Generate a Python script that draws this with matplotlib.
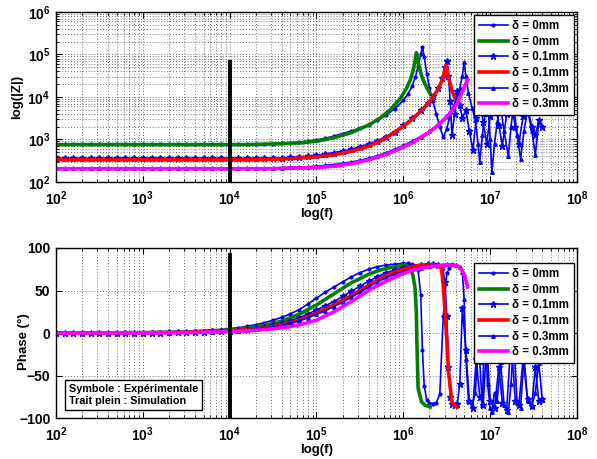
import numpy as np
import matplotlib.pyplot as plt

# style close to a MATLAB export
plt.rcParams['font.family'] = ['Liberation Sans', 'DejaVu Sans']
plt.rcParams['font.weight'] = 'bold'
plt.rcParams['mathtext.fontset'] = 'custom'
plt.rcParams['mathtext.rm'] = 'Liberation Sans:bold'
plt.rcParams['mathtext.bf'] = 'Liberation Sans:bold'
plt.rcParams['mathtext.default'] = 'rm'

# frequencies are given as log10(f), |Z| as log10(|Z|), phase in degrees

# experiment, delta = 0mm
lf_exp0 = [2.0, 2.1, 2.2, 2.3, 2.4, 2.5, 2.6, 2.7, 2.8, 2.9, 3.0, 3.1, 3.2, 3.3, 3.4, 3.5,
           3.6, 3.7, 3.8, 3.9, 4.0, 4.1, 4.2, 4.3, 4.4, 4.5, 4.6, 4.7, 4.8, 4.9, 5.0,
           5.1, 5.2, 5.3, 5.4, 5.5, 5.6, 5.7, 5.8, 5.9, 6.0, 6.05, 6.1, 6.14, 6.17, 6.2,
           6.22, 6.24, 6.27, 6.3, 6.34, 6.38, 6.42, 6.46, 6.5, 6.53]
mag_exp0 = [2.89, 2.89, 2.89, 2.89, 2.89, 2.89, 2.89, 2.89, 2.89, 2.89, 2.89, 2.89, 2.89,
            2.89, 2.89, 2.89, 2.89, 2.89, 2.89, 2.89, 2.89, 2.89, 2.89, 2.89, 2.89, 2.89,
            2.91, 2.92, 2.94, 2.96, 2.99, 3.03, 3.08, 3.14, 3.2, 3.27, 3.35, 3.45, 3.57,
            3.72, 3.92, 4.06, 4.25, 4.48, 4.72, 5.0, 5.18, 4.95, 4.55, 4.22, 3.9, 3.6,
            3.3, 3.05, 3.25, 3.5]
ph_exp0 = [0, 0, 0, 0, 0, 0.1, 0.1, 0.2, 0.3, 0.4, 0.5, 0.6, 0.8, 1.0, 1.3, 1.6, 2.0,
           2.5, 3.2, 4.0, 5.0, 6.3, 7.9, 9.8, 12.2, 15, 18.5, 22.5, 27.5, 34, 41, 48, 54,
           60, 66, 71, 75, 78, 80, 81, 82, 82, 81, 79, 74, 45, -20, -62, -79, -82, -83,
           -82, -72, 20, 70, 76]

# simulation, delta = 0mm
lf_sim0 = [2.0, 3.0, 3.5, 4.0, 4.2, 4.4, 4.6, 4.8, 5.0, 5.2, 5.4, 5.6, 5.73, 5.85, 5.96,
           6.03, 6.08, 6.11, 6.135, 6.15, 6.155, 6.17, 6.21, 6.25, 6.28, 6.31]
mag_sim0 = [2.88, 2.88, 2.88, 2.88, 2.88, 2.89, 2.9, 2.92, 2.96, 3.04, 3.16, 3.34, 3.5,
            3.7, 3.95, 4.18, 4.4, 4.6, 4.85, 5.04, 5.02, 4.82, 4.5, 4.3, 4.18, 4.07]
ph_sim0 = [0, 0.4, 1.2, 3.7, 5.8, 9, 14, 22, 33, 46, 59, 69, 74, 77, 79, 80, 76, 68, 53,
           25, -6, -65, -81, -85, -86, -87]

# experiment, delta = 0.1mm
lf_exp1 = [2.0, 2.1, 2.2, 2.3, 2.4, 2.5, 2.6, 2.7, 2.8, 2.9, 3.0, 3.1, 3.2, 3.3, 3.4, 3.5,
           3.6, 3.7, 3.8, 3.9, 4.0, 4.1, 4.2, 4.3, 4.4, 4.5, 4.6, 4.7, 4.8, 4.9, 5.0,
           5.1, 5.2, 5.3, 5.4, 5.5, 5.6, 5.7, 5.8, 5.9, 6.0, 6.1, 6.2, 6.28, 6.34, 6.4,
           6.45, 6.48, 6.5, 6.52, 6.54, 6.56, 6.59, 6.62, 6.65, 6.68, 6.72, 6.76, 6.8,
           6.84, 6.88, 6.92, 6.96, 7.0, 7.05, 7.1, 7.14, 7.19, 7.24, 7.29, 7.33, 7.38,
           7.43, 7.48, 7.52, 7.56, 7.6]
mag_exp1 = [2.56, 2.56, 2.56, 2.56, 2.56, 2.56, 2.56, 2.56, 2.56, 2.56, 2.56, 2.56, 2.56,
            2.56, 2.56, 2.56, 2.56, 2.56, 2.56, 2.56, 2.56, 2.56, 2.56, 2.56, 2.56, 2.56,
            2.57, 2.58, 2.59, 2.61, 2.63, 2.66, 2.69, 2.73, 2.77, 2.83, 2.89, 2.97, 3.07,
            3.18, 3.33, 3.5, 3.69, 3.86, 4.02, 4.2, 4.45, 4.7, 4.85, 4.5, 3.9, 3.1, 3.6,
            4.15, 3.8, 3.5, 3.7, 3.2, 2.75, 3.5, 3.9, 3.4, 2.9, 3.55, 3.95, 3.35, 2.85,
            3.6, 3.9, 3.3, 2.9, 3.55, 3.75, 3.3, 3.1, 3.45, 3.3]
ph_exp1 = [0, 0, 0.1, 0.1, 0.1, 0.1, 0.1, 0.2, 0.2, 0.2, 0.3, 0.4, 0.5, 0.6, 0.8, 0.9,
           1.2, 1.5, 1.8, 2.3, 2.9, 3.7, 4.6, 5.8, 7.3, 9.2, 11.5, 14.5, 18, 22.5, 27, 32,
           37, 43, 49, 55, 61, 66, 71, 74, 77, 79, 80, 81, 81, 80, 78, 60, 20, -40, -75,
           -84, -85, -84, -60, 30, -20, -80, -88, -30, -75, -85, -10, -80, -88, -40, -82,
           -90, -8, -80, -85, -30, -78, -86, -40, -80, -78]

# simulation, delta = 0.1mm
lf_sim1 = [2.0, 3.0, 3.5, 4.0, 4.2, 4.4, 4.6, 4.8, 5.0, 5.2, 5.4, 5.6, 5.73, 5.85, 6.0,
           6.11, 6.2, 6.27, 6.34, 6.4, 6.44, 6.462, 6.48, 6.49, 6.50, 6.52, 6.56, 6.59, 6.62]
mag_sim1 = [2.52, 2.52, 2.52, 2.52, 2.52, 2.53, 2.54, 2.56, 2.59, 2.64, 2.72, 2.84, 2.96,
            3.1, 3.31, 3.49, 3.66, 3.81, 3.99, 4.18, 4.36, 4.5, 4.65, 4.75, 4.7, 4.45,
            4.15, 4.0, 3.89]
ph_sim1 = [0, 0.25, 0.8, 2.5, 4, 6, 9.5, 15, 23.5, 33, 44, 56, 64, 70, 75, 78, 80, 80, 80,
           79, 76, 53, 25, 8, -6, -45, -81, -86, -87]

# experiment, delta = 0.3mm
lf_exp3 = [2.0, 2.1, 2.2, 2.3, 2.4, 2.5, 2.6, 2.7, 2.8, 2.9, 3.0, 3.1, 3.2, 3.3, 3.4, 3.5,
           3.6, 3.7, 3.8, 3.9, 4.0, 4.1, 4.2, 4.3, 4.4, 4.5, 4.6, 4.7, 4.8, 4.9, 5.0,
           5.1, 5.2, 5.3, 5.4, 5.5, 5.6, 5.7, 5.8, 5.9, 6.0, 6.1, 6.2, 6.3, 6.4, 6.5,
           6.56, 6.61, 6.65, 6.68, 6.7, 6.72, 6.75, 6.79, 6.83, 6.86, 6.88, 6.91, 6.94,
           6.97, 7.0, 7.02, 7.05, 7.08, 7.12, 7.16, 7.21, 7.24, 7.27, 7.31, 7.35, 7.39,
           7.43, 7.48, 7.52, 7.56, 7.6]
mag_exp3 = [2.33, 2.33, 2.33, 2.33, 2.33, 2.33, 2.33, 2.33, 2.33, 2.33, 2.33, 2.33, 2.33,
            2.33, 2.33, 2.33, 2.33, 2.33, 2.33, 2.33, 2.33, 2.33, 2.33, 2.33, 2.33, 2.33,
            2.34, 2.35, 2.35, 2.36, 2.37, 2.39, 2.41, 2.44, 2.47, 2.51, 2.56, 2.62, 2.69,
            2.77, 2.86, 2.96, 3.07, 3.2, 3.36, 3.56, 3.72, 3.92, 4.2, 4.5, 4.82, 4.5, 4.1,
            3.75, 3.46, 2.9, 2.47, 3.1, 3.6, 4.0, 3.0, 2.24, 2.9, 3.4, 3.77, 3.2, 2.6,
            3.3, 3.8, 3.1, 2.54, 3.2, 3.7, 3.2, 2.64, 3.4, 3.3]
ph_exp3 = [0, 0, 0, 0, 0.1, 0.1, 0.1, 0.1, 0.2, 0.2, 0.2, 0.3, 0.4, 0.5, 0.6, 0.7, 0.9,
           1.2, 1.5, 1.9, 2.3, 2.9, 3.7, 4.6, 5.8, 7.2, 9, 11.5, 14.5, 18, 22, 26, 31,
           36, 42, 48, 54, 60, 65, 69, 72, 75, 77, 79, 80, 81, 81, 80, 78, 72, 40, -30,
           -80, -86, -70, -8, -34, -85, 12, -60, -88, -93, -70, -80, -34, -85, -93, -60,
           -8, -82, -88, -27, -80, -86, -70, -35, -79]

# simulation, delta = 0.3mm
lf_sim3 = [2.0, 3.0, 3.5, 4.0, 4.2, 4.4, 4.6, 4.8, 5.0, 5.2, 5.4, 5.6, 5.8, 6.0, 6.11,
           6.2, 6.3, 6.4, 6.5, 6.58, 6.62, 6.65, 6.68, 6.71, 6.74]
mag_sim3 = [2.31, 2.31, 2.31, 2.31, 2.31, 2.31, 2.32, 2.33, 2.34, 2.37, 2.43, 2.52, 2.65,
            2.82, 2.93, 3.04, 3.17, 3.33, 3.53, 3.73, 3.85, 4.0, 4.13, 4.27, 4.4]
ph_sim3 = [0, 0.15, 0.5, 1.5, 2.5, 4, 6, 9.5, 15, 25, 37, 50, 61, 70, 74, 76, 78, 79, 80,
           80, 79, 77, 73, 67, 54]

labels = ['δ = 0mm', 'δ = 0mm', 'δ = 0.1mm', 'δ = 0.1mm', 'δ = 0.3mm', 'δ = 0.3mm']

# black marker line at 10 kHz
f_mark = 1e4
mark_top_mag = 6.6e4
mark_top_ph = 92

fig = plt.figure(figsize=(5.97, 4.59), dpi=100)
ax1 = fig.add_axes([0.0938, 0.6035, 0.8727, 0.3704])
ax2 = fig.add_axes([0.0938, 0.0893, 0.8727, 0.3704])

def f(lf):
    return 10 ** np.array(lf)

exp_style = dict(color='#0000ff', linewidth=1.2)
sim_style = dict(linewidth=2.6)

# magnitude
ax1.plot(f(lf_exp0), f(mag_exp0), marker='.', markersize=4, label=labels[0], **exp_style)
ax1.plot(f(lf_sim0), f(mag_sim0), color='#008000', label=labels[1], **sim_style)
ax1.plot(f(lf_exp1), f(mag_exp1), marker='*', markersize=5, label=labels[2], **exp_style)
ax1.plot(f(lf_sim1), f(mag_sim1), color='#ff0000', label=labels[3], **sim_style)
ax1.plot(f(lf_exp3), f(mag_exp3), marker='^', markersize=2.5, label=labels[4], **exp_style)
ax1.plot(f(lf_sim3), f(mag_sim3), color='#ff00ff', label=labels[5], **sim_style)
ax1.plot([f_mark, f_mark], [1e2, mark_top_mag], color='k', linewidth=2.8)

# phase
ax2.plot(f(lf_exp0), ph_exp0, marker='.', markersize=4, label=labels[0], **exp_style)
ax2.plot(f(lf_sim0), ph_sim0, color='#008000', label=labels[1], **sim_style)
ax2.plot(f(lf_exp1), ph_exp1, marker='*', markersize=5, label=labels[2], **exp_style)
ax2.plot(f(lf_sim1), ph_sim1, color='#ff0000', label=labels[3], **sim_style)
ax2.plot(f(lf_exp3), ph_exp3, marker='^', markersize=2.5, label=labels[4], **exp_style)
ax2.plot(f(lf_sim3), ph_sim3, color='#ff00ff', label=labels[5], **sim_style)
ax2.plot([f_mark, f_mark], [-100, mark_top_ph], color='k', linewidth=2.8)

grid_kw = dict(linestyle=(0, (1, 2.5)), color='0.25', linewidth=0.6)

ax1.set_xscale('log')
ax1.set_yscale('log')
ax1.set_xlim(1e2, 1e8)
ax1.set_ylim(1e2, 1e6)
ax1.set_xticks([1e2, 1e3, 1e4, 1e5, 1e6, 1e7, 1e8])
ax1.set_yticks([1e2, 1e3, 1e4, 1e5, 1e6])
ax1.grid(True, which='both', **grid_kw)
ax1.set_xlabel('log(f)', fontsize=9.5, fontweight='bold', labelpad=0)
ax1.set_ylabel('log(|Z|)', fontsize=9.5, fontweight='bold')
ax1.yaxis.set_label_coords(-0.063, 0.5)

ax2.set_xscale('log')
ax2.set_xlim(1e2, 1e8)
ax2.set_ylim(-100, 100)
ax2.set_xticks([1e2, 1e3, 1e4, 1e5, 1e6, 1e7, 1e8])
ax2.set_yticks([-100, -50, 0, 50, 100])
ax2.grid(True, which='major', **grid_kw)
ax2.xaxis.grid(True, which='minor', **grid_kw)
ax2.set_xlabel('log(f)', fontsize=9.5, fontweight='bold', labelpad=0)
ax2.set_ylabel('Phase (°)', fontsize=9.5, fontweight='bold')
ax2.yaxis.set_label_coords(-0.05, 0.45)

for ax in (ax1, ax2):
    ax.tick_params(which='both', direction='in', top=True, right=True, labelsize=10)
    ax.tick_params(axis='x', pad=5.5)
    ax.tick_params(axis='y', pad=4)
    ax.tick_params(which='major', length=4, width=0.8)
    ax.tick_params(which='minor', length=2, width=0.6)
    for s in ax.spines.values():
        s.set_linewidth(1.0)
    ax.set_axisbelow(True)

leg_kw = dict(frameon=True, fancybox=False, framealpha=1, edgecolor='k',
              handlelength=2.6, labelspacing=0.32, borderpad=0.4, handletextpad=0.3,
              borderaxespad=0.3, prop=dict(weight='bold', size=8.3))
l1 = ax1.legend(loc='upper right', bbox_to_anchor=(1, 1), **leg_kw)
l2 = ax2.legend(loc='upper right', bbox_to_anchor=(1, 0.93), **leg_kw)
for l in (l1, l2):
    l.get_frame().set_linewidth(1.0)

ax2.text(0.024, 0.2, 'Symbole : Expérimentale\nTrait plein : Simulation',
         transform=ax2.transAxes, fontsize=7.8, fontweight='bold', va='top', ha='left',
         linespacing=1.25,
         bbox=dict(boxstyle='square,pad=0.35', facecolor='white', edgecolor='k', linewidth=1.0))

fig.savefig('out.png', dpi=100)
